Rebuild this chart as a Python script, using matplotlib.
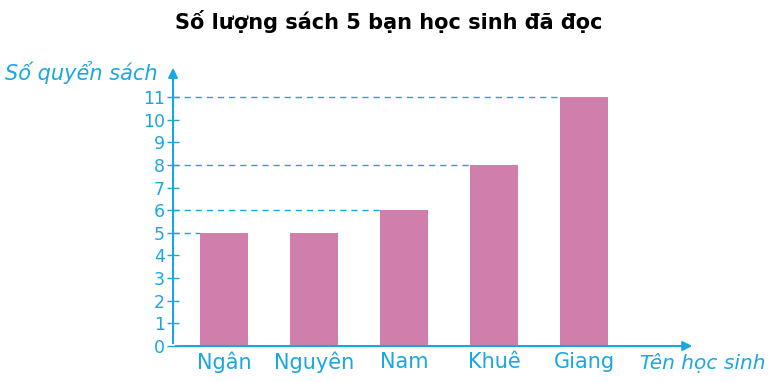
import matplotlib.pyplot as plt

students = ["Ngân", "Nguyên", "Nam", "Khuê", "Giang"]
books = [5, 5, 6, 8, 11]
y_ticks = list(range(0, 12))

cyan = "#1AA7E1"
pink = "#D07FAD"
plt.rcParams['font.family'] = ['DejaVu Sans']

fig = plt.figure(figsize=(7.78, 3.82), dpi=100)
ax = fig.add_axes([0.2224, 0.0942, 0.671, 0.7356])

xs = list(range(len(students)))
w = 0.53
ax.bar(xs, books, width=w, color=pink, zorder=2)

# dashed guide lines to the left edge of the first bar of each height
seen = set()
for x, v in zip(xs, books):
    if v in seen:
        continue
    seen.add(v)
    ax.plot([-0.567, x - w / 2], [v, v], ls=(0, (4.5, 3.5)), color=cyan, lw=1, zorder=1)

ax.set_xlim(-0.567, 5.23)
ax.set_ylim(0, 12.41)
for s in ax.spines.values():
    s.set_visible(False)

# axes with arrows
ax.annotate("", xy=(5.23, 0), xytext=(-0.567, 0),
            arrowprops=dict(arrowstyle="-|>", color=cyan, lw=1.5, mutation_scale=14),
            annotation_clip=False)
ax.annotate("", xy=(-0.567, 12.41), xytext=(-0.567, 0),
            arrowprops=dict(arrowstyle="-|>", color=cyan, lw=1.5, mutation_scale=14),
            annotation_clip=False)

ax.set_yticks(y_ticks)
ax.set_yticklabels([str(t) for t in y_ticks])
ax.set_xticks(xs)
ax.set_xticklabels(students)
ax.tick_params(axis='y', direction='inout', length=8, width=1, color=cyan,
               labelcolor=cyan, labelsize=12.5, pad=2)
ax.tick_params(axis='x', length=0, labelcolor=cyan, labelsize=15, pad=4)

fig.text(0.006, 0.81, "Số quyển sách", color=cyan, fontsize=15, style='italic', va='center')
fig.text(0.822, 0.05, "Tên học sinh", color=cyan, fontsize=14.5, style='italic', va='center')
fig.suptitle("Số lượng sách 5 bạn học sinh đã đọc", fontsize=15, fontweight='bold', y=0.975)

fig.savefig("out.png", dpi=100)
